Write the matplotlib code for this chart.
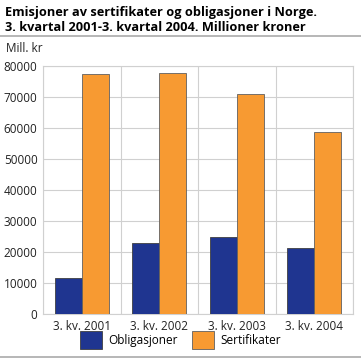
import numpy as np
from matplotlib import pyplot as plt

plt.rcParams['font.family'] = ['Open Sans', 'DejaVu Sans']

kvartal = ['3. kv. 2001', '3. kv. 2002', '3. kv. 2003', '3. kv. 2004']
obligasjoner = [11600, 22800, 25000, 21400]
sertifikater = [77500, 77800, 71000, 58700]

blue = '#1f3590'
orange = '#f79a32'
grid = '#d0d0d0'

fig = plt.figure(figsize=(3.61, 3.63), dpi=100)
ax = fig.add_axes([43/361, 1-314/363, 310/361, 248/363])

x = np.arange(len(kvartal))
w = 0.35
ax.bar(x - w/2, obligasjoner, w, color=blue, edgecolor='#404040', linewidth=0.6,
       label='Obligasjoner', zorder=3)
ax.bar(x + w/2, sertifikater, w, color=orange, edgecolor='#606060', linewidth=0.6,
       label='Sertifikater', zorder=3)

ax.set_xlim(-0.5, len(kvartal) - 0.5)
ax.set_ylim(0, 80000)
ax.set_yticks(np.arange(0, 80001, 10000))
ax.set_xticks(x)
ax.set_xticklabels(kvartal)
ax.set_xticks(np.arange(-0.5, len(kvartal), 1), minor=True)
ax.grid(axis='y', color=grid, linewidth=0.8, zorder=0)
ax.grid(axis='x', which='minor', color=grid, linewidth=0.8, zorder=0)
ax.tick_params(axis='both', which='both', length=0, labelsize=8.5, colors='#222222')
ax.tick_params(axis='y', pad=4)
ax.tick_params(axis='x', pad=4)
for s in ax.spines.values():
    s.set_color(grid)
    s.set_linewidth(0.8)

title_lines = ['Emisjoner av sertifikater og obligasjoner i Norge.',
               '3. kvartal 2001-3. kvartal 2004. Millioner kroner']
for i, line in enumerate(title_lines):
    fig.text(5/361, 1-(16 + 15*i)/363, line, fontsize=9.2, fontweight='bold',
             va='baseline', ha='left')
fig.add_artist(plt.Line2D([0, 1], [1-36/363, 1-36/363], color='#aaaaaa', linewidth=1.2))
fig.add_artist(plt.Line2D([0, 1], [1-357/363, 1-357/363], color='#aaaaaa', linewidth=1.2))
fig.text(6/361, 1-49/363, 'Mill. kr', fontsize=8.5, va='center', ha='left', color='#222222')

fig.legend(loc='center', bbox_to_anchor=(0.5, 1-340/363), ncol=2, frameon=False,
           fontsize=8.5, handlelength=1.9, handleheight=1.9, columnspacing=1.2,
           handletextpad=0.5)

fig.savefig('out.png', dpi=100)
